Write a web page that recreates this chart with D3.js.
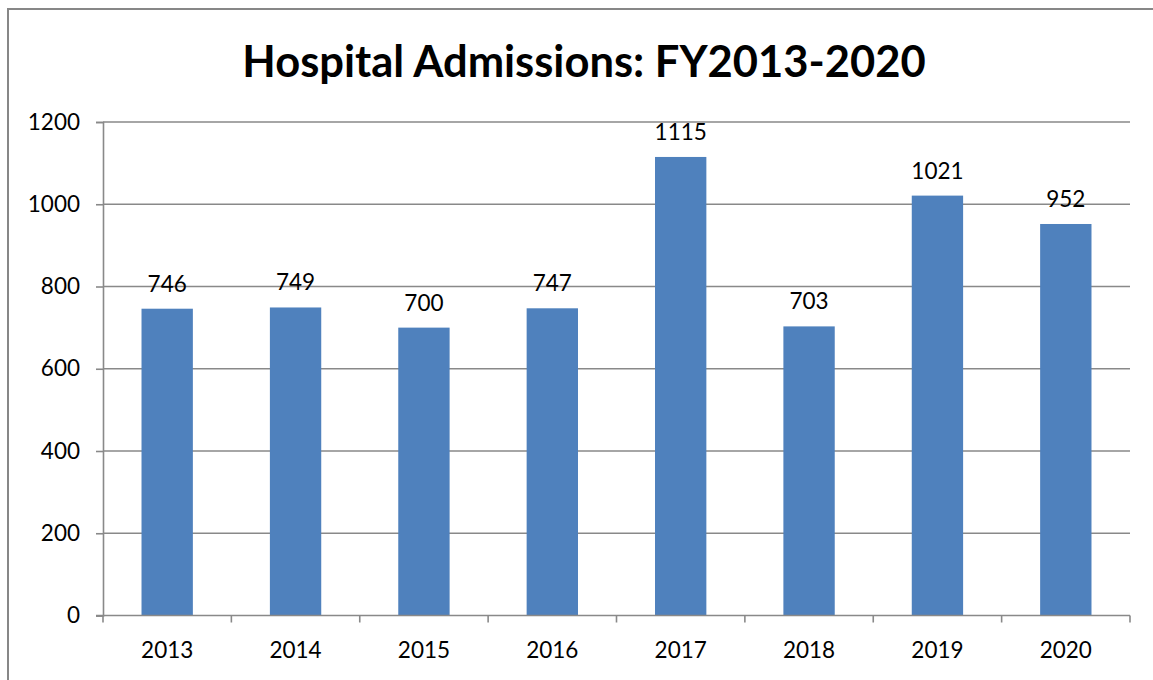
<!DOCTYPE html>
<html>
<head>
<meta charset="utf-8">
<script src="https://cdn.jsdelivr.net/npm/d3@7"></script>
<style>
  html, body { margin: 0; padding: 0; background: #fff; }
  svg { display: block; }
</style>
</head>
<body>
<svg id="chart" width="1153" height="680"></svg>
<script>
const years = ["2013", "2014", "2015", "2016", "2017", "2018", "2019", "2020"]
const admissions = [746, 749, 700, 747, 1115, 703, 1021, 952]
const yTicks = [0, 200, 400, 600, 800, 1000, 1200]
const TITLE = "Hospital Admissions: FY2013-2020"

const FONT = "Lato, 'Open Sans', sans-serif"
const LABEL_SIZE = "22.5px"
const margins = { top: 122, bottom: 64.5, left: 103, right: 23 }

const svg = d3.select("#chart")
const width = 1153 - margins.left - margins.right
const height = 680 - margins.top - margins.bottom

// outer chart frame, runs past the right/bottom edge of the picture
svg.append("rect")
    .attr("x", 8).attr("y", 9)
    .attr("width", 1170).attr("height", 700)
    .attr("fill", "#fff")
    .attr("stroke", "#878787")
    .attr("stroke-width", 2)

svg.append("text")
    .attr("x", 584).attr("y", 77)
    .attr("text-anchor", "middle")
    .attr("font-family", FONT)
    .attr("font-weight", "700")
    .attr("font-size", "43.5px")
    .attr("fill", "#000")
    .text(TITLE)

const x = d3.scaleBand().domain(years).range([0, width]).paddingInner(0.6).paddingOuter(0.3)
const xOuter = d3.scaleBand().domain(years).range([0, width])
const y = d3.scaleLinear().domain([0, 1200]).range([height, 0])

const g = svg.append("g").attr("transform", "translate(" + margins.left + "," + margins.top + ")")

// gridlines
g.selectAll("line.grid")
    .data(yTicks.filter(d => d > 0))
    .enter().append("line")
    .attr("class", "grid")
    .attr("x1", 0).attr("x2", width)
    .attr("y1", d => y(d)).attr("y2", d => y(d))
    .attr("stroke", "#898989")
    .attr("stroke-width", 1.6)

const yAxis = d3.axisLeft(y).tickValues(yTicks).tickFormat(d3.format("d")).tickSize(7).tickPadding(16)
g.append("g").call(yAxis)
    .call(a => a.select(".domain").attr("stroke", "#898989").attr("stroke-width", 1.6))
    .call(a => a.selectAll(".tick line").attr("stroke", "#898989").attr("stroke-width", 1.6))
    .call(a => a.selectAll("text").attr("font-family", FONT).attr("font-size", LABEL_SIZE).attr("fill", "#000"))

// bars
g.selectAll("rect.bar")
    .data(admissions)
    .enter().append("rect")
    .attr("class", "bar")
    .attr("x", (d, i) => x(years[i]))
    .attr("y", d => y(d))
    .attr("width", x.bandwidth())
    .attr("height", d => height - y(d))
    .attr("fill", "#4f81bd")

// value labels
g.selectAll("text.val")
    .data(admissions)
    .enter().append("text")
    .attr("class", "val")
    .attr("x", (d, i) => x(years[i]) + x.bandwidth() / 2)
    .attr("y", d => y(d) - 17)
    .attr("text-anchor", "middle")
    .attr("font-family", FONT)
    .attr("font-size", LABEL_SIZE)
    .attr("fill", "#000")
    .text(d => d)

// x axis: ticks sit between categories
const xAxisG = g.append("g").attr("transform", "translate(0," + height + ")")
xAxisG.append("line")
    .attr("x1", -7).attr("x2", width)
    .attr("stroke", "#898989").attr("stroke-width", 1.6)
xAxisG.selectAll("line.tk")
    .data(years.concat(["end"]))
    .enter().append("line")
    .attr("class", "tk")
    .attr("x1", (d, i) => i * xOuter.step()).attr("x2", (d, i) => i * xOuter.step())
    .attr("y1", 0).attr("y2", 7)
    .attr("stroke", "#898989").attr("stroke-width", 1.6)
xAxisG.selectAll("text")
    .data(years)
    .enter().append("text")
    .attr("x", d => xOuter(d) + xOuter.bandwidth() / 2)
    .attr("y", 42)
    .attr("text-anchor", "middle")
    .attr("font-family", FONT)
    .attr("font-size", LABEL_SIZE)
    .attr("fill", "#000")
    .text(d => d)
</script>
</body>
</html>
